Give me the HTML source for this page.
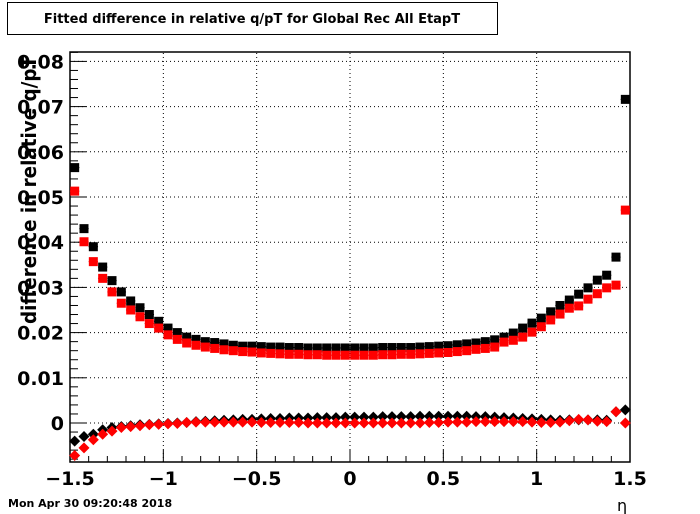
<!DOCTYPE html>
<html><head><meta charset="utf-8"><style>
body{margin:0;background:#fff;}
svg{display:block;font-family:"DejaVu Sans","Liberation Sans",sans-serif;}
</style></head><body>
<svg id="c" width="700" height="514" xmlns="http://www.w3.org/2000/svg">
<rect x="0" y="0" width="700" height="514" fill="#fff"/>
<rect x="7.5" y="2.5" width="490" height="32" fill="#fff" stroke="#000"/>
<text x="252" y="23" font-size="13" font-weight="bold" text-anchor="middle">Fitted difference in relative q/pT for Global Rec All EtapT</text>
<g id="grid"></g>
<g id="axes"></g>
<g id="marks"></g>
<text x="36" y="190" font-size="20" font-weight="bold" text-anchor="middle" transform="rotate(-90 36 190)" textLength="268" lengthAdjust="spacingAndGlyphs">difference in relative q/pT</text>
<text x="617" y="511" font-size="16">η</text>
<text x="8" y="507" font-size="11" font-weight="bold">Mon Apr 30 09:20:48 2018</text>
</svg>
<script>
const xTicks=[-1.5,-1,-0.5,0,0.5,1,1.5];
const xTickLabels=["\u22121.5","\u22121","\u22120.5","0","0.5","1","1.5"];
const yTicks=[0,0.01,0.02,0.03,0.04,0.05,0.06,0.07,0.08];
const yTickLabels=["0","0.01","0.02","0.03","0.04","0.05","0.06","0.07","0.08"];
const etaBins=[-1.475,-1.425,-1.375,-1.325,-1.275,-1.225,-1.175,-1.125,-1.075,-1.025,-0.975,-0.925,-0.875,-0.825,-0.775,-0.725,-0.675,-0.625,-0.575,-0.525,-0.475,-0.425,-0.375,-0.325,-0.275,-0.225,-0.175,-0.125,-0.075,-0.025,0.025,0.075,0.125,0.175,0.225,0.275,0.325,0.375,0.425,0.475,0.525,0.575,0.625,0.675,0.725,0.775,0.825,0.875,0.925,0.975,1.025,1.075,1.125,1.175,1.225,1.275,1.325,1.375,1.425,1.475];
const blackSq=[0.0565,0.043,0.039,0.0345,0.0315,0.029,0.027,0.0255,0.024,0.0225,0.021,0.020,0.019,0.0185,0.018,0.0178,0.0175,0.0172,0.017,0.017,0.0169,0.0168,0.0168,0.0167,0.0167,0.0166,0.0166,0.0166,0.0166,0.0166,0.0166,0.0166,0.0166,0.0167,0.0167,0.0167,0.0167,0.0168,0.0169,0.017,0.0171,0.0173,0.0175,0.0177,0.018,0.0184,0.019,0.0199,0.021,0.0221,0.0232,0.0246,0.026,0.0272,0.0285,0.0299,0.0316,0.0327,0.0367,0.0716];
const redSq=[0.0513,0.0401,0.0357,0.032,0.029,0.0265,0.025,0.0235,0.022,0.021,0.0195,0.0185,0.0177,0.0172,0.0168,0.0165,0.0162,0.016,0.0158,0.0157,0.0155,0.0154,0.0153,0.0152,0.0152,0.0151,0.0151,0.015,0.015,0.015,0.015,0.015,0.015,0.0151,0.0151,0.0152,0.0152,0.0153,0.0154,0.0155,0.0156,0.0158,0.016,0.0163,0.0165,0.0168,0.0179,0.0183,0.019,0.0201,0.0213,0.0228,0.0241,0.0254,0.0259,0.0274,0.0286,0.0299,0.0305,0.0471];
const blackDi=[-0.004,-0.003,-0.0025,-0.0015,-0.001,-0.0008,-0.0006,-0.0004,-0.0003,-0.0002,-0.0001,0,0.0001,0.0003,0.0004,0.0005,0.0006,0.0007,0.0008,0.0008,0.0009,0.001,0.001,0.0011,0.0011,0.0011,0.0012,0.0012,0.0012,0.0013,0.0013,0.0013,0.0013,0.0014,0.0014,0.0014,0.0014,0.0015,0.0015,0.0015,0.0015,0.0015,0.0015,0.0014,0.0014,0.0013,0.0012,0.0011,0.001,0.0009,0.0008,0.0007,0.0006,0.0007,0.0007,0.0007,0.0007,0.0006,0.0025,0.0029];
const redDi=[-0.0072,-0.0055,-0.0037,-0.0025,-0.0018,-0.001,-0.0008,-0.0006,-0.0004,-0.0003,-0.0002,-0.0001,0.0001,0.0002,0.0002,0.0002,0.0002,0.0002,0.0002,0.0002,0.0001,0.0001,0.0001,0.0001,0.0001,0,0,0,0,0,0,0,0,0,0,0,0,0,0.0001,0.0001,0.0002,0.0002,0.0002,0.0003,0.0003,0.0003,0.0003,0.0003,0.0003,0.0002,0.0001,0.0001,0.0002,0.0005,0.0008,0.0007,0.0004,0.0003,0.0025,0];
const X0=70,X1=630,Y0=462,Y1=52;
const xMin=-1.5,xMax=1.5,yZero=423,yPer=4520;
function xs(v){return X0+(v-xMin)/(xMax-xMin)*(X1-X0);}
function ys(v){return yZero-v*yPer;}
const NS="http://www.w3.org/2000/svg";
function mk(t,a,p){const e=document.createElementNS(NS,t);for(const k in a)e.setAttribute(k,a[k]);p.appendChild(e);return e;}
const grid=document.getElementById('grid'),axes=document.getElementById('axes'),marks=document.getElementById('marks');
xTicks.forEach((v,i)=>{
  if(i>0&&i<xTicks.length-1){const l=mk('line',{x1:xs(v),x2:xs(v),y1:Y0,y2:Y1,stroke:'#000','stroke-dasharray':'1,3'},grid);
  
  }
  const t=mk('text',{x:xs(v),y:485,'font-size':19,'font-weight':'bold','text-anchor':'middle'},axes);t.textContent=xTickLabels[i];
  
  
});
yTicks.forEach((v,i)=>{
  if(i<yTicks.length){const l=mk('line',{x1:X0,x2:X1,y1:ys(v),y2:ys(v),stroke:'#000','stroke-dasharray':'1,3'},grid);
  
  }
  const t=mk('text',{x:64,y:ys(v)+7,'font-size':19,'font-weight':'bold','text-anchor':'end'},axes);t.textContent=yTickLabels[i];
  
  
});
for(let k=-15;k<=15;k++){const v=k/10;const maj=(k%5===0);
  mk('line',{x1:xs(v),x2:xs(v),y1:Y0,y2:Y0-(maj?12:6),stroke:'#000'},axes);}
for(let k=-4;k<=41;k++){const v=k*0.002;const y=ys(v);if(y<Y1||y>Y0)continue;const maj=(k%5===0);
  mk('line',{x1:X0,x2:X0+(maj?16:8),y1:y,y2:y,stroke:'#000'},axes);}
const fr=mk('rect',{x:X0,y:Y1,width:X1-X0,height:Y0-Y1,fill:'none',stroke:'#000','stroke-width':1.5},axes);


function series(vals,color,shape,name){
  const g=mk('g',{},marks);
  
  
  etaBins.forEach((e,i)=>{const cx=xs(e),cy=ys(vals[i]);
    mk('line',{x1:cx-4.7,x2:cx+4.7,y1:cy,y2:cy,stroke:color},g);
    let m;
    if(shape==='sq')m=mk('rect',{x:cx-4.5,y:cy-4.5,width:9,height:9,fill:color},g);
    else m=mk('polygon',{points:`${cx},${cy-5.5} ${cx+5.5},${cy} ${cx},${cy+5.5} ${cx-5.5},${cy}`,fill:color},g);
    
    
  });
}
series(blackSq,'#000','sq','black-square-series');
series(redSq,'#f00','sq','red-square-series');
series(blackDi,'#000','di','black-diamond-series');
series(redDi,'#f00','di','red-diamond-series');
</script>
</body></html>
